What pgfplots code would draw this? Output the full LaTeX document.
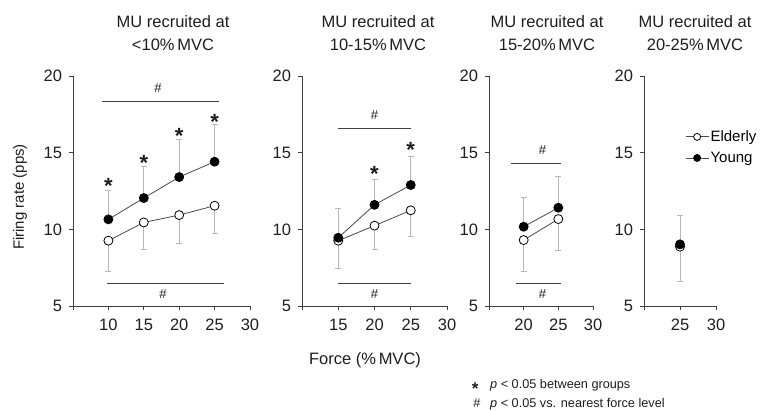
\documentclass[border=0pt]{standalone}
\usepackage{fontspec}
\setmainfont{Liberation Sans}
\usepackage{pgfplots}
\usepackage{pgfplotstable}
\pgfplotsset{compat=1.18}
\definecolor{axisgray}{HTML}{404040}
\definecolor{linegray}{HTML}{4A4A4A}
\definecolor{errgray}{HTML}{B8B8B8}
\definecolor{txt}{HTML}{1E1E1E}

% x  mean  sd
\pgfplotstableread{
x y e
10 9.26 1.98
15 10.45 1.73
20 10.93 1.82
25 11.54 1.78
}\elderA
\pgfplotstableread{
x y e
10 10.65 1.91
15 12.04 2.09
20 13.41 2.46
25 14.41 2.46
}\youngA
\pgfplotstableread{
x y e
15 9.26 1.80
20 10.24 1.54
25 11.24 1.68
}\elderB
\pgfplotstableread{
x y e
15 9.45 1.90
20 11.60 1.66
25 12.89 1.89
}\youngB
\pgfplotstableread{
x y e
20 9.30 2.02
25 10.67 2.07
}\elderC
\pgfplotstableread{
x y e
20 10.17 1.92
25 11.41 2.07
}\youngC
\pgfplotstableread{
x y e
25 8.87 2.29
}\elderD
\pgfplotstableread{
x y e
25 9.02 1.91
}\youngD

\tikzset{annot/.style={draw=axisgray, line width=0.8pt}}
\pgfplotsset{
  panel/.style={
    scale only axis, height=230pt, ymin=5, ymax=20,
    anchor=south west, clip=false,
    axis x line=bottom, axis y line=left,
    axis line style={-, draw=axisgray, line width=0.8pt},
    ytick={5,10,15,20},
    tick align=outside, major tick length=4pt,
    tick style={draw=axisgray, line width=0.8pt},
    tick label style={font=\fontsize{16.5}{16.5}\selectfont, text=txt},
    yticklabel style={xshift=-3.5pt},
    xticklabel style={yshift=-5.5pt},
    /pgf/number format/assume math mode=true,
    error bars/error bar style={draw=errgray, line width=0.8pt},
    error bars/error mark options={rotate=90, mark size=3pt, draw=errgray, line width=0.8pt},
  },
  elderly/.style={draw=linegray, line width=0.8pt, mark=*, mark size=4.5pt,
    mark options={fill=white, draw=black, line width=0.8pt},
    error bars/.cd, y dir=minus, y explicit},
  young/.style={draw=linegray, line width=0.8pt, mark=*, mark size=4.5pt,
    mark options={fill=black, draw=black, line width=0.8pt},
    error bars/.cd, y dir=plus, y explicit},
}
\tikzset{star/.style={font=\fontsize{22}{22}\selectfont\bfseries, text=txt, anchor=base, yshift=-12pt, inner sep=0pt}}
\newcommand{\hashfont}{\fontsize{13}{13}\selectfont}
\newcommand{\titlefont}{\fontsize{16.5}{23}\selectfont}

\begin{document}
\begin{tikzpicture}[x=1pt,y=1pt]
\useasboundingbox (0pt,0pt) rectangle (762pt,-411pt);

% Panel 1
\begin{axis}[panel, at={(73pt,-306pt)}, width=177pt, xmin=5, xmax=30,
  xtick={5,10,15,20,25,30}, xticklabels={,10,15,20,25,30}]
\addplot[elderly] table[x=x, y=y, y error minus=e] {\elderA};
\addplot[young] table[x=x, y=y, y error plus=e] {\youngA};
\draw[annot] (axis cs:9.05,18.32) -- (axis cs:25.6,18.32);
\node[font=\hashfont, text=txt] at (axis cs:17,19.2) {\#};
\draw[annot] (axis cs:9.75,6.5) -- (axis cs:26.3,6.5);
\node[font=\hashfont, text=txt] at (axis cs:17.7,5.8) {\#};
\node[star] at (axis cs:10,13.1) {*};
\node[star] at (axis cs:15,14.6) {*};
\node[star] at (axis cs:20,16.4) {*};
\node[star] at (axis cs:25,17.3) {*};
\end{axis}

% Panel 2
\begin{axis}[panel, at={(302pt,-306pt)}, width=145pt, xmin=10, xmax=30,
  xtick={10,15,20,25,30}, xticklabels={,15,20,25,30}]
\addplot[elderly] table[x=x, y=y, y error minus=e] {\elderB};
\addplot[young] table[x=x, y=y, y error plus=e] {\youngB};
\draw[annot] (axis cs:15,16.56) -- (axis cs:25.1,16.56);
\node[font=\hashfont, text=txt] at (axis cs:20,17.46) {\#};
\draw[annot] (axis cs:15,6.5) -- (axis cs:25,6.5);
\node[font=\hashfont, text=txt] at (axis cs:20,5.75) {\#};
\node[star] at (axis cs:20,13.87) {*};
\node[star] at (axis cs:25,15.45) {*};
\end{axis}

% Panel 3
\begin{axis}[panel, at={(489pt,-306pt)}, width=104pt, xmin=15, xmax=30,
  xtick={15,20,25,30}, xticklabels={,20,25,30}]
\addplot[elderly] table[x=x, y=y, y error minus=e] {\elderC};
\addplot[young] table[x=x, y=y, y error plus=e] {\youngC};
\draw[annot] (axis cs:18.1,14.3) -- (axis cs:25.4,14.3);
\node[font=\hashfont, text=txt] at (axis cs:22.7,15.17) {\#};
\draw[annot] (axis cs:18.9,6.5) -- (axis cs:25.4,6.5);
\node[font=\hashfont, text=txt] at (axis cs:22.7,5.8) {\#};
\end{axis}

% Panel 4
\begin{axis}[panel, at={(644pt,-306pt)}, width=72pt, xmin=20, xmax=30,
  xtick={20,25,30}, xticklabels={,25,30},
  legend style={draw=none, fill=none, at={(0.57,0.69)}, anchor=west,
    inner sep=0pt, font=\fontsize{15}{15}\selectfont, row sep=6pt,
    nodes={inner sep=1.5pt}},
  legend cell align=left,
  legend image code/.code={\draw[mark repeat=2, mark phase=2, mark size=3.5pt]
     plot coordinates {(0pt,0pt) (11.5pt,0pt) (23pt,0pt)};}]
\addplot[elderly] table[x=x, y=y, y error minus=e] {\elderD};
\addlegendentry{Elderly}
\addplot[young] table[x=x, y=y, y error plus=e] {\youngD};
\addlegendentry{Young}
\end{axis}

% Titles
\node[font=\titlefont, align=center, text=txt] at (173pt,-33.5pt) {MU recruited at\\<10\%\,MVC};
\node[font=\titlefont, align=center, text=txt] at (378pt,-33.5pt) {MU recruited at\\10-15\%\,MVC};
\node[font=\titlefont, align=center, text=txt] at (547pt,-33.5pt) {MU recruited at\\15-20\%\,MVC};
\node[font=\titlefont, align=center, text=txt] at (695pt,-33.5pt) {MU recruited at\\20-25\%\,MVC};

% Axis labels
\node[font=\fontsize{15}{15}\selectfont, rotate=90, text=txt] at (20pt,-197pt) {Firing rate (pps)};
\node[font=\fontsize{16.5}{16.5}\selectfont, text=txt] at (365pt,-360pt) {Force (\%\,MVC)};

% Footnote
\node[font=\fontsize{12.7}{12.7}\selectfont, text=txt, anchor=west, inner sep=0pt] at (471.7pt,-387pt)
  {\makebox[18.3pt][l]{\raisebox{-5.9pt}{\fontsize{17}{17}\selectfont\bfseries *}}\textit{p} < 0.05 between groups};
\node[font=\fontsize{12.7}{12.7}\selectfont, text=txt, anchor=west, inner sep=0pt] at (473.2pt,-404pt)
  {\makebox[16.8pt][l]{\#}\textit{p} < 0.05 vs. nearest force level};
\end{tikzpicture}
\end{document}
